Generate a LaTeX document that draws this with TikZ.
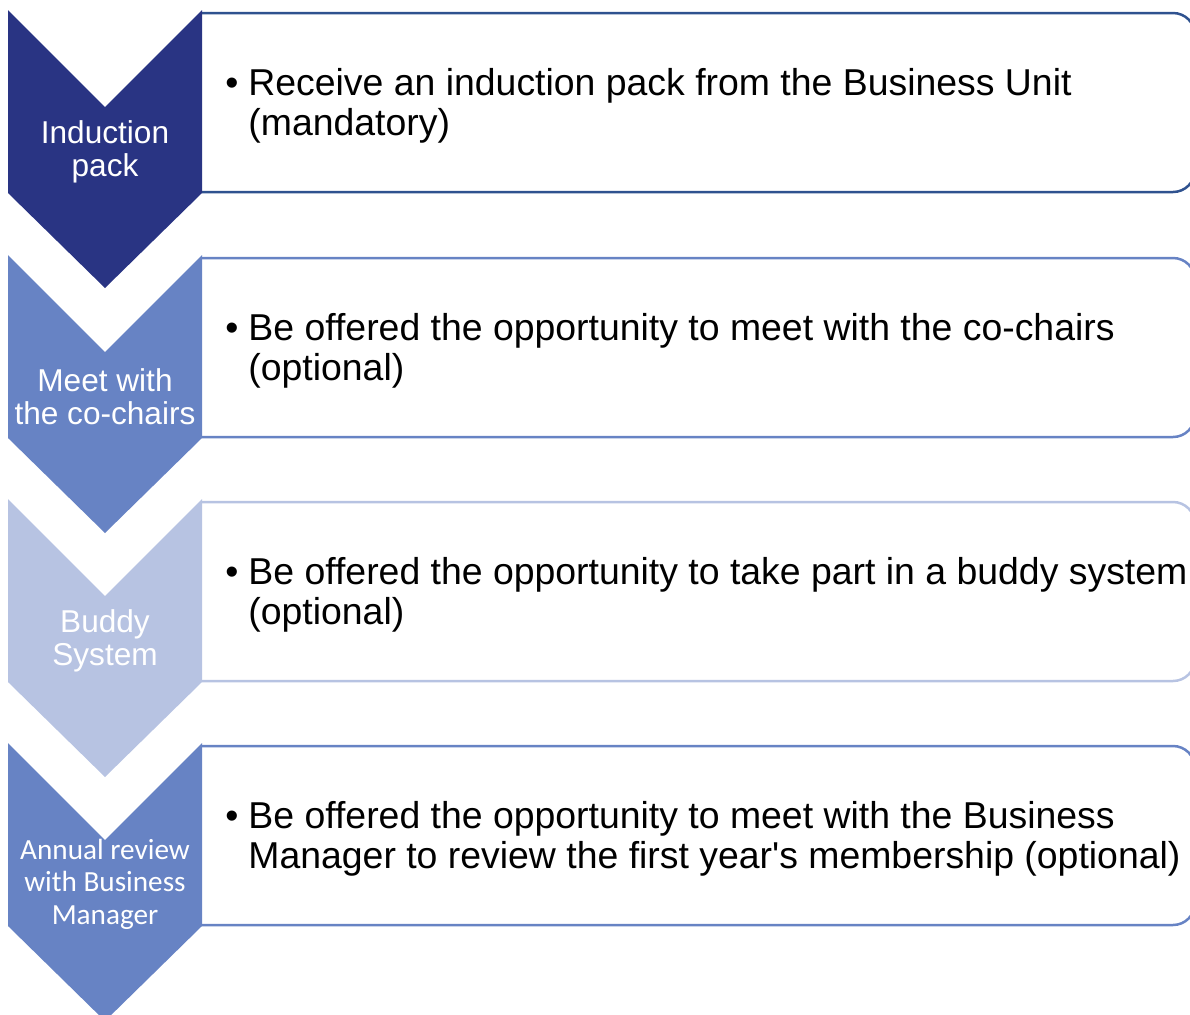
\documentclass[tikz,border=0pt]{standalone}
\usepackage{fontspec}
\setmainfont{Liberation Sans}
\newfontfamily\calibri{Carlito}
\definecolor{navy}{RGB}{41,52,131}
\definecolor{midblue}{RGB}{103,131,196}
\definecolor{paleblue}{RGB}{183,195,226}
\definecolor{boxedge}{RGB}{47,82,143}
\begin{document}
\begin{tikzpicture}[x=0.5pt, y=-0.5pt,
  panel/.style={line width=1.25pt, rounded corners=11pt},
  item/.style={anchor=west, align=left, inner sep=0pt, font=\fontsize{18.7}{20}\selectfont},
  tag/.style={align=center, inner sep=0pt, text=white, font=\fontsize{15.8}{16.5}\selectfont}]
\useasboundingbox (0,0) rectangle (1190,1014);
\clip (0,0) rectangle (1190,1014);
% step 1
\draw[panel, boxedge](202,13)--(1195,13)--(1195,192)--(202,192);
\fill[navy](8,10)--(105,107)--(202,10)--(202,193)--(105,288)--(8,193)--cycle;
\node[tag] (ind) at (105,152) {Induction\\pack};
\node[item] (indtxt) at (248,105.5) {\llap{\textbullet\hspace{5pt}}Receive an induction pack from the Business Unit\\(mandatory)};
% step 2
\draw[panel, midblue](202,258)--(1195,258)--(1195,437)--(202,437);
\fill[midblue](8,255)--(105,352)--(202,255)--(202,438)--(105,533)--(8,438)--cycle;
\node[tag] (meet) at (105,397) {Meet with\\the co-chairs};
\node[item] (meettxt) at (248,350.5) {\llap{\textbullet\hspace{5pt}}Be offered the opportunity to meet with the co-chairs\\(optional)};
% step 3
\draw[panel, paleblue](202,502)--(1195,502)--(1195,681)--(202,681);
\fill[paleblue](8,499)--(105,596)--(202,499)--(202,682)--(105,777)--(8,682)--cycle;
\node[tag] (buddy) at (105,641) {Buddy\\System};
\node[item] (buddytxt) at (248,594.5) {\llap{\textbullet\hspace{5pt}}Be offered the opportunity to take part in a buddy system\\(optional)};
% step 4
\draw[panel, midblue](202,746)--(1195,746)--(1195,925)--(202,925);
\fill[midblue](8,743)--(105,840)--(202,743)--(202,926)--(105,1021)--(8,926)--cycle;
\node[tag, font=\calibri\fontsize{14.6}{16.25}\selectfont] (review) at (105,884) {Annual review\\with Business\\Manager};
\node[item] (reviewtxt) at (248,838.5) {\llap{\textbullet\hspace{5pt}}Be offered the opportunity to meet with the Business\\Manager to review the first year\textquotesingle s membership (optional)};
\end{tikzpicture}
\end{document}
